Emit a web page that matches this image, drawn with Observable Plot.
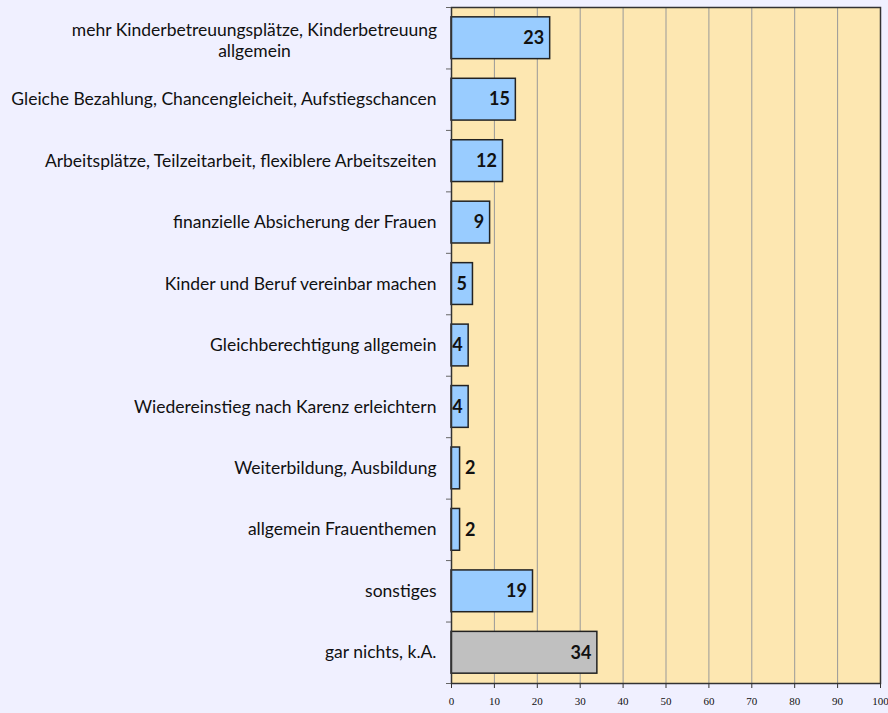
<!DOCTYPE html>
<html><head><meta charset="utf-8">
<script src="https://cdn.jsdelivr.net/npm/d3@7"></script>
<script src="https://cdn.jsdelivr.net/npm/@observablehq/plot@0.6"></script>
<style>html,body{margin:0;padding:0;background:#F0F0FF;overflow:hidden;}</style>
</head><body><div id="chart"></div>
<script>
const categories = [
  "mehr Kinderbetreuungsplätze, Kinderbetreuung\nallgemein",
  "Gleiche Bezahlung, Chancengleicheit, Aufstiegschancen",
  "Arbeitsplätze, Teilzeitarbeit, flexiblere Arbeitszeiten",
  "finanzielle Absicherung der Frauen",
  "Kinder und Beruf vereinbar machen",
  "Gleichberechtigung allgemein",
  "Wiedereinstieg nach Karenz erleichtern",
  "Weiterbildung, Ausbildung",
  "allgemein Frauenthemen",
  "sonstiges",
  "gar nichts, k.A."
];
const values = [23, 15, 12, 9, 5, 4, 4, 2, 2, 19, 34];
const xTicks = [0, 10, 20, 30, 40, 50, 60, 70, 80, 90, 100];
const noAnswer = "gar nichts, k.A.";

const rows = categories.map((label, i) => ({label, value: values[i], i}));
const pad = 0.16;
const font = "Lato, 'Open Sans', sans-serif";

const chart = Plot.plot({
  width: 888,
  height: 713,
  marginLeft: 451,
  marginRight: 8,
  marginTop: 7,
  marginBottom: 30,
  style: {background: "transparent", fontFamily: font},
  x: {domain: [0, 100], label: null},
  y: {domain: [0, categories.length], reverse: true, label: null},
  marks: [
    Plot.frame({fill: "#FDE7B1", stroke: null}),
    Plot.gridX({ticks: xTicks.slice(1, -1), stroke: "#999", strokeOpacity: 1, strokeWidth: 1}),
    Plot.rectX(rows, {
      x1: 0, x2: "value",
      y1: d => d.i + pad, y2: d => d.i + 1 - pad,
      fill: d => d.label === noAnswer ? "#C0C0C0" : "#99CCFF",
      stroke: "#222", strokeWidth: 1.5
    }),
    Plot.text(rows.filter(d => d.value >= 3), {
      x: "value", y: d => d.i + 0.5, text: d => String(d.value),
      textAnchor: "end", dx: -6, fontWeight: "bold", fontSize: 18, fill: "#111"
    }),
    Plot.text(rows.filter(d => d.value < 3), {
      x: "value", y: d => d.i + 0.5, text: d => String(d.value),
      textAnchor: "start", dx: 5, fontWeight: "bold", fontSize: 18, fill: "#111"
    }),
    Plot.text(rows.filter(d => !d.label.includes("\n")), {
      x: 0, y: d => d.i + 0.5, text: "label",
      textAnchor: "end", dx: -15, fontSize: 17.5, fill: "#111"
    }),
    Plot.text(rows.filter(d => d.label.includes("\n")), {
      x: 0, y: d => d.i + 0.5, text: "label",
      textAnchor: "middle", dx: -197, dy: 2, lineHeight: 1.2, fontSize: 17.5, fill: "#111"
    }),
    Plot.frame({stroke: "#333", strokeWidth: 1.5}),
    Plot.axisY({ticks: d3.range(categories.length + 1), tickFormat: () => "", tickSize: 5, stroke: "#666", label: null}),
    Plot.axisX({ticks: xTicks, tickSize: 5, tickPadding: 9, stroke: "#333", label: null,
      fontFamily: "'Liberation Serif', serif", fontSize: 11, fill: "#111"})
  ]
});
document.getElementById("chart").append(chart);
</script>
</body></html>
